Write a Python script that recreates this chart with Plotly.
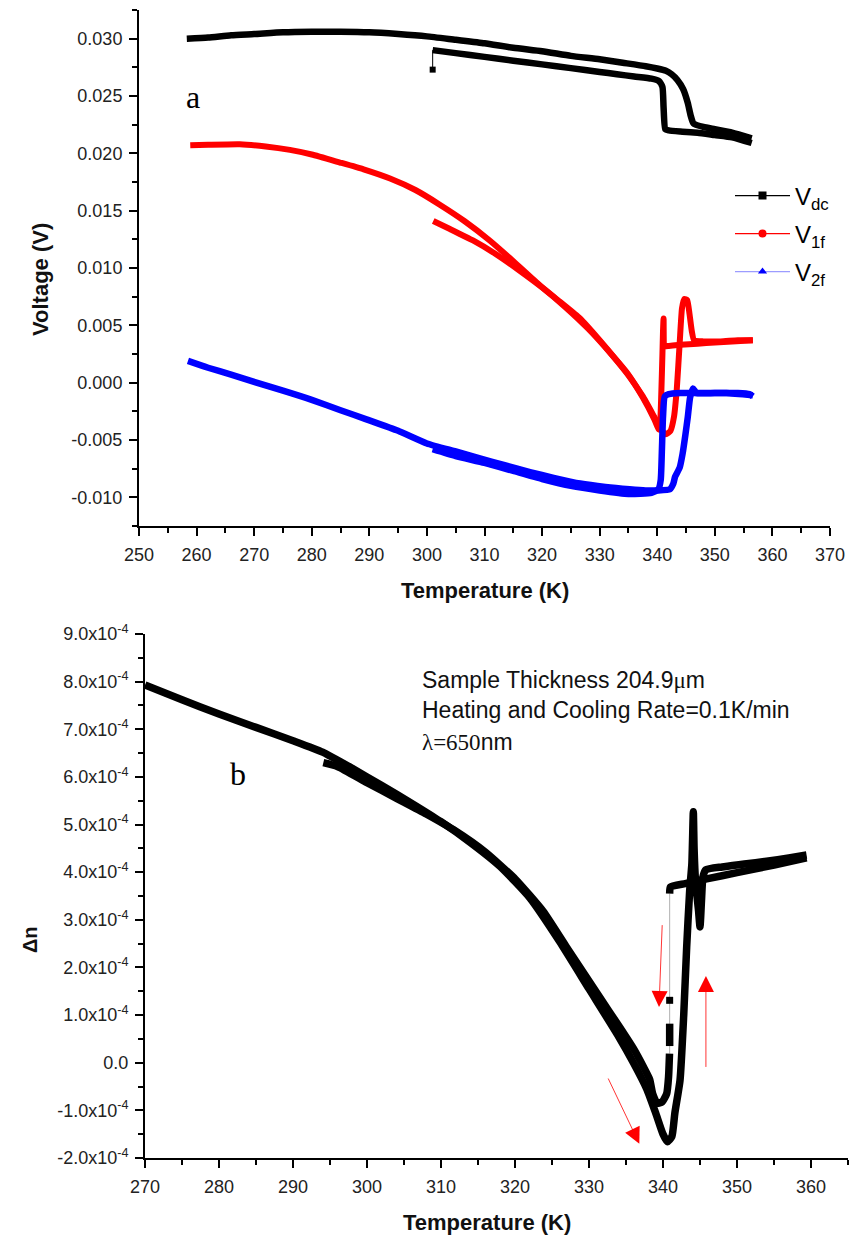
import plotly.graph_objects as go

# ---------------- panel a : voltages ----------------
T_dc_heat = [258.3, 262, 266, 270, 275, 280, 285, 290, 295, 300, 305, 310, 315, 320, 325, 330,
             334, 338, 340, 341.5, 342.5, 343.5, 344.5, 345.3, 345.8, 346.3, 348, 350, 353, 356.4]
V_dc_heat = [0.0300, 0.0301, 0.0303, 0.0304, 0.03055, 0.0306, 0.0306, 0.03055, 0.0304, 0.0302,
             0.0299, 0.0296, 0.0292, 0.0289, 0.0285, 0.0282, 0.0279, 0.0276, 0.0274, 0.0272,
             0.0269, 0.0264, 0.0256, 0.0244, 0.0233, 0.0226, 0.0223, 0.0221, 0.0218, 0.0213]
T_dc_cool = [356.4, 353, 350, 347, 344, 342, 341.4, 341.1, 340.9, 340.3, 339, 336, 333, 330,
             325, 320, 315, 310, 305, 301]
V_dc_cool = [0.0209, 0.0214, 0.0216, 0.0218, 0.0219, 0.0220, 0.0221, 0.0240, 0.0258, 0.0263,
             0.02651, 0.0267, 0.0269, 0.0271, 0.02743, 0.02776, 0.02808, 0.02841, 0.02874, 0.0290]
T_dc_tail = [301, 301]
V_dc_tail = [0.0290, 0.0273]

T_1f_heat = [258.9, 262, 267.5, 272, 276.2, 280, 284.9, 289, 293.6, 298, 302.3, 306.5, 310.9,
             315, 319.6, 323, 326.6, 330, 333, 335.2, 337.5, 339.5, 340.7, 341.5, 342.3, 342.9,
             343.4, 343.9, 344.3, 344.7, 345.2, 345.6, 346.0, 346.4, 348, 351, 354, 356.6]
V_1f_heat = [0.0207, 0.02075, 0.0208, 0.0206, 0.0203, 0.0199, 0.0192, 0.0186, 0.0178, 0.0168,
             0.0155, 0.0141, 0.0124, 0.0106, 0.0085, 0.0071, 0.0056, 0.0037, 0.0019, 0.0005,
             -0.0012, -0.0030, -0.0041, -0.0045, -0.0042, -0.0030, -0.0005, 0.0035, 0.0065,
             0.0073, 0.0072, 0.0060, 0.0045, 0.0037, 0.0036, 0.0036, 0.0037, 0.0037]
T_1f_cool = [356.6, 353, 350, 347, 344, 342, 341.3, 341.1, 341.0, 340.9, 340.7, 340.5, 340.3,
             339.5, 337.5, 335, 332, 328, 324, 320, 316, 312, 308, 304, 301.1]
V_1f_cool = [0.0037, 0.0036, 0.0035, 0.0034, 0.0033, 0.0032, 0.0032, 0.0056, 0.0045, 0.0025,
             -0.0010, -0.0036, -0.0041, -0.0032, -0.0013, 0.0007, 0.0025, 0.0047, 0.0066,
             0.0083, 0.0098, 0.0112, 0.0124, 0.0134, 0.0141]

T_2f_heat = [258.5, 262, 266, 270.4, 275, 280, 285, 289.5, 295, 300, 305, 309.2, 313.5, 317.9,
             322, 326.6, 331, 335.2, 338, 340, 342.2, 342.8, 343.1, 343.9, 344.4, 344.9, 345.3,
             345.7, 346.2, 346.8, 350, 354, 356, 356.6]
V_2f_heat = [0.0019, 0.0013, 0.0007, 0.0000, -0.0007, -0.0015, -0.0024, -0.0032, -0.0042,
             -0.0053, -0.0060, -0.0066, -0.0072, -0.0078, -0.0083, -0.0088, -0.0091, -0.0093,
             -0.0094, -0.0094, -0.0093, -0.0088, -0.0082, -0.0074, -0.0062, -0.0045, -0.0030,
             -0.0013, -0.0005, -0.0009, -0.0009, -0.0009, -0.0010, -0.0012]
T_2f_cool = [356.6, 352, 348, 344, 342, 341.3, 341.0, 340.8, 340.6, 340.2, 339, 335, 330, 325,
             320, 315, 310, 305, 301]
V_2f_cool = [-0.0011, -0.0009, -0.0009, -0.0009, -0.0010, -0.0012, -0.0030, -0.0060, -0.0085,
             -0.0093, -0.0096, -0.0097, -0.0094, -0.0090, -0.0084, -0.0077, -0.0070, -0.0064,
             -0.0058]

V_ticks = [-0.010, -0.005, 0.000, 0.005, 0.010, 0.015, 0.020, 0.025, 0.030]
V_ticktext = ["-0.010", "-0.005", "0.000", "0.005", "0.010", "0.015", "0.020", "0.025", "0.030"]

# ---------------- panel b : birefringence ----------------
T_dn_heat = [270, 275, 280, 285, 290, 294, 298, 302, 306, 310, 314, 318, 322, 326, 330, 334,
             336, 337.8, 339, 340, 340.6, 341.2, 341.6, 342.3, 342.8, 343.2, 343.6, 343.9, 344.1,
             344.2, 344.4, 344.8, 345.0, 345.2, 345.4, 345.8, 348, 351, 354, 357, 359.4]
dn_heat = [7.93e-4, 7.62e-4, 7.32e-4, 7.04e-4, 6.76e-4, 6.52e-4, 6.18e-4, 5.82e-4, 5.45e-4,
           5.06e-4, 4.62e-4, 4.12e-4, 3.46e-4, 2.55e-4, 1.55e-4, 0.55e-4, 0.0, -0.55e-4,
           -1.05e-4, -1.50e-4, -1.66e-4, -1.55e-4, -1.06e-4, -0.37e-4, 1.0e-4, 2.43e-4, 3.6e-4,
           4.18e-4, 5.27e-4, 4.5e-4, 3.8e-4, 3.2e-4, 2.85e-4, 3.4e-4, 3.9e-4, 4.05e-4, 4.11e-4,
           4.17e-4, 4.23e-4, 4.30e-4, 4.36e-4]
T_dn_cool = [359.4, 355, 350, 345.9, 343, 341, 340.9, None, 340.9, 340.9, None,
             340.88, 340.75, 340.5, 339.9, 339.2, 338.6, 338.2, 337.4, 336, 334, 331.5, 327,
             323.8, 320, 316, 312, 308, 304, 300, 296, 294.1]
dn_cool = [4.30e-4, 4.15e-4, 3.99e-4, 3.86e-4, 3.76e-4, 3.69e-4, 3.55e-4, None,
           0.82e-4, 0.35e-4, None,
           0.19e-4, -0.3e-4, -0.65e-4, -0.82e-4, -0.85e-4, -0.65e-4, -0.35e-4, -0.1e-4, 0.3e-4,
           0.78e-4, 1.36e-4, 2.42e-4, 3.18e-4, 3.86e-4, 4.42e-4, 4.86e-4, 5.22e-4, 5.55e-4,
           5.88e-4, 6.22e-4, 6.30e-4]
T_dn_gap = [340.9, 340.9]
dn_gap = [3.55e-4, 0.19e-4]
T_dn_dot = [340.9]
dn_dot = [1.31e-4]

dn_ticks = [-2e-4, -1e-4, 0, 1e-4, 2e-4, 3e-4, 4e-4, 5e-4, 6e-4, 7e-4, 8e-4, 9e-4]
dn_ticktext = ["-2.0x10<sup>-4</sup>", "-1.0x10<sup>-4</sup>", "0.0", "1.0x10<sup>-4</sup>",
               "2.0x10<sup>-4</sup>", "3.0x10<sup>-4</sup>", "4.0x10<sup>-4</sup>",
               "5.0x10<sup>-4</sup>", "6.0x10<sup>-4</sup>", "7.0x10<sup>-4</sup>",
               "8.0x10<sup>-4</sup>", "9.0x10<sup>-4</sup>"]

# arrows (tail T, tail dn, head T, head dn)
arrows = [(332.5, -0.30e-4, 336.8, -1.70e-4),
          (339.9, 2.92e-4, 339.46, 1.17e-4),
          (345.8, -0.12e-4, 345.8, 1.82e-4)]

BLACK = "#000000"
RED = "#ff0000"
BLUE = "#0000ff"
FONT = "Liberation Sans, Arial, sans-serif"
SERIF = "Liberation Serif, Times New Roman, serif"
W = 851
H = 1237

fig = go.Figure()


def line(x, y, color, width, xa="x", ya="y", smooth=True):
    ln = dict(color=color, width=width)
    if smooth:
        ln.update(shape="spline", smoothing=0.5)
    fig.add_trace(go.Scatter(x=x, y=y, mode="lines", xaxis=xa, yaxis=ya, showlegend=False,
                             line=ln, connectgaps=False, hoverinfo="skip"))


# panel a
line(T_dc_tail, V_dc_tail, BLACK, 1, smooth=False)
fig.add_trace(go.Scatter(x=T_dc_tail[1:], y=V_dc_tail[1:], mode="markers", showlegend=False,
                         marker=dict(symbol="square", size=6, color=BLACK)))
line(T_dc_heat, V_dc_heat, BLACK, 6.5)
line(T_dc_cool, V_dc_cool, BLACK, 6.5)
line(T_1f_heat, V_1f_heat, RED, 6)
line(T_1f_cool, V_1f_cool, RED, 6)
line(T_2f_heat, V_2f_heat, BLUE, 6.5)
line(T_2f_cool, V_2f_cool, BLUE, 6.5)

# legend entries
leg_specs = [("V<sub>dc</sub>", BLACK, BLACK, "square", "legend"),
             ("V<sub>1f</sub>", RED, RED, "circle", "legend2"),
             ("V<sub>2f</sub>", "rgba(90,90,255,0.6)", BLUE, "triangle-up", "legend3")]
for name, lc, mc, sym, lg in leg_specs:
    fig.add_trace(go.Scatter(x=[None], y=[None], mode="lines+markers", name=name, legend=lg,
                             line=dict(color=lc, width=1.2),
                             marker=dict(symbol=sym, size=8, color=mc)))

# panel b
line(T_dn_gap, dn_gap, "#b0b0b0", 1, "x2", "y2", smooth=False)
line(T_dn_heat, dn_heat, BLACK, 7.5, "x2", "y2")
line(T_dn_cool, dn_cool, BLACK, 7.5, "x2", "y2")
fig.add_trace(go.Scatter(x=T_dn_dot, y=dn_dot, mode="markers", xaxis="x2", yaxis="y2",
                         showlegend=False, marker=dict(symbol="square", size=7, color=BLACK)))

axis_common = dict(showline=True, linecolor=BLACK, linewidth=2, ticks="outside", ticklen=8,
                   tickwidth=2, tickcolor=BLACK, showgrid=False, zeroline=False,
                   tickfont=dict(family=FONT, size=18, color="#222"),
                   ticklabelstandoff=3, automargin=False)

fig.update_layout(
    width=W, height=H, margin=dict(l=0, r=0, t=0, b=0, autoexpand=False),
    paper_bgcolor="white", plot_bgcolor="white",
    xaxis=dict(domain=[139 / W, 830 / W], range=[250, 370], anchor="y", tick0=250, dtick=10,
               minor=dict(dtick=5, ticklen=5, tickwidth=1.5, ticks="outside", tickcolor=BLACK),
               **axis_common),
    yaxis=dict(domain=[1 - 526 / H, 1 - 10 / H], range=[-0.0125, 0.0325], anchor="x",
               tickvals=V_ticks, ticktext=V_ticktext,
               minor=dict(dtick=0.0025, tick0=0, ticklen=5, tickwidth=1.5, ticks="outside",
                          tickcolor=BLACK),
               **axis_common),
    xaxis2=dict(domain=[145 / W, 848 / W], range=[270, 365], anchor="y2", tick0=270, dtick=10,
                minor=dict(dtick=5, ticklen=5, tickwidth=1.5, ticks="outside", tickcolor=BLACK),
                **axis_common),
    yaxis2=dict(domain=[1 - 1158 / H, 1 - 634 / H], range=[-2e-4, 9e-4], anchor="x2",
                tickvals=dn_ticks, ticktext=dn_ticktext,
                minor=dict(dtick=0.5e-4, tick0=0, ticklen=5, tickwidth=1.5, ticks="outside",
                           tickcolor=BLACK),
                **axis_common),
)

leg_common = dict(bgcolor="rgba(0,0,0,0)", itemwidth=55, font=dict(family=FONT, size=24,
                  color=BLACK), xanchor="left", yanchor="middle", itemclick=False)
fig.update_layout(
    legend=dict(x=730 / W, y=1 - 196 / H, **leg_common),
    legend2=dict(x=730 / W, y=1 - 234 / H, **leg_common),
    legend3=dict(x=730 / W, y=1 - 272 / H, **leg_common),
)

ann = []
ann.append(dict(text="<b>Voltage (V)</b>", x=40 / W, y=1 - 280 / H, textangle=-90,
                font=dict(family=FONT, size=22, color="#111")))
ann.append(dict(text="<b>Temperature (K)</b>", x=485 / W, y=1 - 590 / H,
                font=dict(family=FONT, size=22, color="#111")))
ann.append(dict(text="<b>Temperature (K)</b>", x=487 / W, y=1 - 1222 / H,
                font=dict(family=FONT, size=22, color="#111")))
ann.append(dict(text="<b>Δn</b>", x=30 / W, y=1 - 940 / H, textangle=-90,
                font=dict(family=FONT, size=20, color="#111")))
ann.append(dict(text="a", x=193 / W, y=1 - 97 / H, font=dict(family=SERIF, size=32, color=BLACK)))
ann.append(dict(text="b", x=238 / W, y=1 - 774 / H, font=dict(family=SERIF, size=32, color=BLACK)))
ann.append(dict(text="Sample Thickness 204.9<span style='font-family:Liberation Serif'>μ</span>m",
                x=420 / W, y=1 - 680 / H, xanchor="left",
                font=dict(family=FONT, size=23, color="#111")))
ann.append(dict(text="Heating and Cooling Rate=0.1K/min", x=420 / W, y=1 - 710 / H,
                xanchor="left", font=dict(family=FONT, size=23, color="#111")))
ann.append(dict(text="<span style='font-family:Liberation Serif'>λ=650</span>nm",
                x=420 / W, y=1 - 742 / H, xanchor="left",
                font=dict(family=FONT, size=23, color="#111")))
for a in ann:
    a.setdefault("xref", "paper")
    a.setdefault("yref", "paper")
    a.setdefault("showarrow", False)
    a.setdefault("xanchor", "center")
    a.setdefault("yanchor", "middle")

for (tx, ty, hx, hy) in arrows:
    ann.append(dict(x=hx, y=hy, ax=tx, ay=ty, xref="x2", yref="y2", axref="x2", ayref="y2",
                    showarrow=True, arrowhead=2, arrowsize=4, arrowwidth=0.8,
                    arrowcolor=RED, text=""))

fig.update_layout(annotations=ann)

fig.write_html("out.html")
